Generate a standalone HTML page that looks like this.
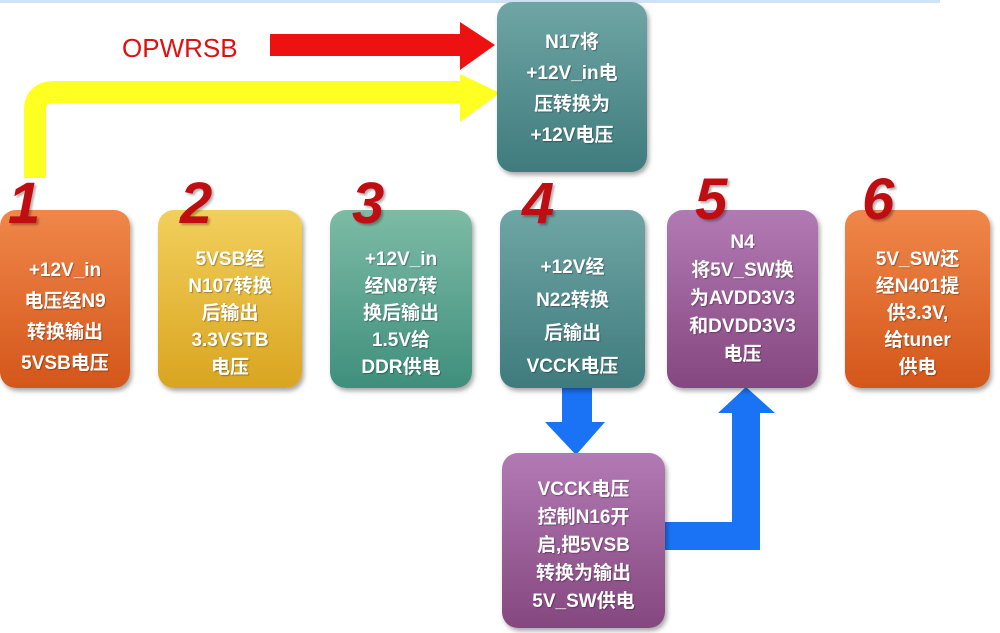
<!DOCTYPE html>
<html><head><meta charset="utf-8"><style>
body{margin:0;width:1000px;height:633px;background:#fff;position:relative;overflow:hidden;font-family:"Liberation Sans","Noto Sans CJK SC",sans-serif}
.b{position:absolute;box-sizing:border-box;border-radius:16px;color:#fff;font-weight:bold;font-size:19px;line-height:31px;text-align:center;display:flex;align-items:center;justify-content:center;box-shadow:2px 3px 5px rgba(0,0,0,.35);text-shadow:1px 1px 1px rgba(0,0,0,.3)}
.n{position:absolute;color:#c00d12;font:italic bold 58px "Liberation Sans",sans-serif;text-shadow:2px 2px 2px rgba(0,0,0,.3)}
</style></head><body>
<div style="position:absolute;left:0;top:0;width:940px;height:3px;background:#cfe3f5"></div>
<svg width="1000" height="633" style="position:absolute;left:0;top:0">
<path d="M35 178 V110 Q35 92 55 92 H462" fill="none" stroke="#ffff22" stroke-width="22"/>
<polygon points="460,74 500,93 460,122" fill="#ffff22"/>
<rect x="270" y="34" width="192" height="22" fill="#ee1111"/>
<polygon points="460,22 495,45 460,70" fill="#ee1111"/>
<rect x="562" y="386" width="30" height="38" fill="#1a73f5"/>
<polygon points="545,422 605,422 576,455" fill="#1a73f5"/>
<path d="M665 536 H746 V410" fill="none" stroke="#1a73f5" stroke-width="28"/>
<polygon points="718,413 775,413 746,387" fill="#1a73f5"/>
</svg>
<div style="position:absolute;left:122px;top:33px;color:#e01010;font:26px 'Liberation Sans',sans-serif">OPWRSB</div>
<div class="b" style="left:497px;top:2px;width:150px;height:170px;padding-top:4px;background:linear-gradient(#6fa5a5,#3f7b7d)">N17将<br>+12V_in电<br>压转换为<br>+12V电压</div>
<div class="b" style="left:0;top:210px;width:130px;height:178px;padding-top:36px;background:linear-gradient(#f0874a,#d4561a)">+12V_in<br>电压经N9<br>转换输出<br>5VSB电压</div>
<div class="b" style="left:158px;top:210px;width:144px;height:178px;line-height:27px;padding-top:28px;background:linear-gradient(#f2cf5c,#d9a520)">5VSB经<br>N107转换<br>后输出<br>3.3VSTB<br>电压</div>
<div class="b" style="left:330px;top:210px;width:142px;height:178px;line-height:27px;padding-top:28px;background:linear-gradient(#7dbba5,#3f8f7d)">+12V_in<br>经N87转<br>换后输出<br>1.5V给<br>DDR供电</div>
<div class="b" style="left:500px;top:210px;width:145px;height:178px;line-height:33px;padding-top:36px;background:linear-gradient(#6fa5a5,#3f7b7d)">+12V经<br>N22转换<br>后输出<br>VCCK电压</div>
<div class="b" style="left:667px;top:210px;width:151px;height:178px;line-height:28px;padding-top:0;background:linear-gradient(#b27ab4,#85477f)">N4<br>将5V_SW换<br>为AVDD3V3<br>和DVDD3V3<br>电压</div>
<div class="b" style="left:845px;top:210px;width:145px;height:178px;line-height:27px;padding-top:28px;background:linear-gradient(#f0874a,#d4561a)">5V_SW还<br>经N401提<br>供3.3V,<br>给tuner<br>供电</div>
<div class="b" style="left:502px;top:453px;width:163px;height:175px;line-height:28px;padding-top:10px;background:linear-gradient(#b27ab4,#85477f)">VCCK电压<br>控制N16开<br>启,把5VSB<br>转换为输出<br>5V_SW供电</div>
<div class="n" style="left:8px;top:170px">1</div>
<div class="n" style="left:180px;top:170px">2</div>
<div class="n" style="left:352px;top:170px">3</div>
<div class="n" style="left:522px;top:170px">4</div>
<div class="n" style="left:695px;top:166px">5</div>
<div class="n" style="left:862px;top:166px">6</div>
</body></html>
